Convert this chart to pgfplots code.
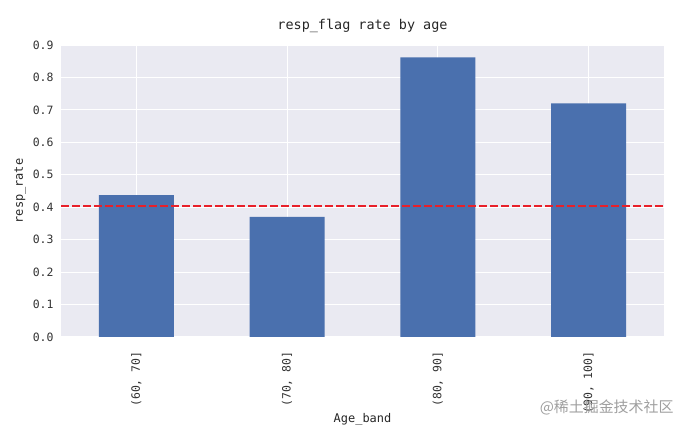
\documentclass[border=0pt]{standalone}
\usepackage{fontspec}
\setmainfont{DejaVu Sans Mono}
\newfontfamily\cjk{Noto Sans CJK SC}
\usepackage{pgfplots}
\pgfplotsset{compat=1.18}
\definecolor{bg}{HTML}{EAEAF2}
\definecolor{barblue}{HTML}{4A70AE}
\definecolor{txt}{HTML}{333333}
\definecolor{redline}{HTML}{E8202A}
\begin{document}
\begin{tikzpicture}
\useasboundingbox (0,0) rectangle (692bp,428bp);
\begin{axis}[
  at={(61bp,91bp)}, anchor=south west,
  scale only axis, width=603bp, height=292bp,
  xmin=-0.5, xmax=3.5, ymin=0, ymax=0.9,
  axis background/.style={fill=bg},
  axis line style={draw=none},
  major tick length=0pt,
  grid=major, major grid style={white, line width=1.1bp},
  xtick={0,1,2,3},
  xticklabels={{(60, 70]},{(70, 80]},{(80, 90]},{(90, 100]}},
  xticklabel style={rotate=90, anchor=east, font=\fontsize{11.5}{13}\selectfont, text=txt},
  xticklabel shift=11bp,
  ytick={0,0.1,0.2,0.3,0.4,0.5,0.6,0.7,0.8,0.9},
  yticklabel style={/pgf/number format/fixed, /pgf/number format/fixed zerofill,
    /pgf/number format/precision=1, font=\fontsize{11.5}{13}\selectfont, text=txt},
  /pgf/number format/assume math mode=true,
  yticklabel shift=4bp,
  title={resp\_flag rate by age},
  title style={font=\fontsize{13.5}{15}\selectfont, at={(0.5,1)}, anchor=base, yshift=9.5bp, text=black!85},
  xlabel={Age\_band},
  xlabel style={font=\fontsize{12}{14}\selectfont, at={(0.5,0)}, anchor=base, yshift=-85bp, text=black!85},
  ylabel={resp\_rate},
  ylabel style={font=\fontsize{12}{14}\selectfont, at={(-0.068,0.5)}, anchor=center, text=black!85},
]
\addplot[ybar, bar width=75bp, fill=barblue, draw=none] coordinates {(0,0.437) (1,0.370) (2,0.862) (3,0.720)};
\addplot[redline, dash pattern=on 7.5bp off 3.5bp, line width=2bp] coordinates {(-0.5,0.404) (3.5,0.404)};
\end{axis}
\node[font=\cjk\fontsize{15}{15}\selectfont, text=gray!75, anchor=east] at (677bp,21bp) {@稀土掘金技术社区};
\end{tikzpicture}
\end{document}
